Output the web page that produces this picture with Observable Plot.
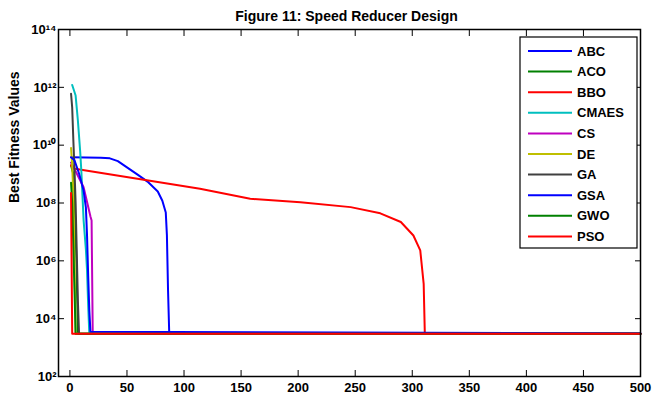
<!DOCTYPE html>
<html><head><meta charset="utf-8">
<script src="https://cdn.jsdelivr.net/npm/d3@7"></script>
<script src="https://cdn.jsdelivr.net/npm/@observablehq/plot@0.6"></script>
<style>
body{margin:0;background:#fff;}
#wrap{position:relative;width:652px;height:400px;overflow:hidden;font-family:"Liberation Sans",Arial,sans-serif;}
</style></head><body><div id="wrap"></div>
<script>
const title = "Figure 11: Speed Reducer Design";
const yLabel = "Best Fitness Values";
const algorithms = ["ABC","ACO","BBO","CMAES","CS","DE","GA","GSA","GWO","PSO"];
const colors = ["#0000ff","#008000","#ff0000","#00bfbf","#bf00bf","#bfbf00","#404040","#0000ff","#008000","#ff0000"];
const xTicks = [0,50,100,150,200,250,300,350,400,450,500];
const yTicks = [1e2,1e4,1e6,1e8,1e10,1e12,1e14];

// iteration / best fitness pairs
const abcIter = [1,27,35,42,50,59,68,77,81,84,85,86,87,110,500];
const abcBest = [3.8e9,3.7e9,3.5e9,2.8e9,1.7e9,9.8e8,5.5e8,2.5e8,1.2e8,4.7e7,7.6e6,9.3e4,3400,3100,3050];
const acoIter = [1,3,4,5,6,7,500];
const acoBest = [2e9,1e9,2e8,1e7,3e5,2994.5,2994.5];
const bboIter = [1,3,114,158,202,246,272,290,301,307,310,311,500];
const bboBest = [2.0e9,1.55e9,3.1e8,1.4e8,1.07e8,7.2e7,4.4e7,2.2e7,7.5e6,2.3e6,1.6e5,2994.5,2994.5];
const cmaesIter = [2,5,7,9,10,12,14,15,16,17,500];
const cmaesBest = [1.2e12,5.2e11,7e10,6e9,1.3e9,2.5e7,2.5e6,4.7e5,3e4,2994.5,2994.5];
const csIter = [1,6,12,18,19,20,500];
const csBest = [2.5e9,1.05e9,3.5e8,3.4e7,2.5e7,3000,2994.5];
const deIter = [1,2,3,4,5,500];
const deBest = [8e9,2e9,2e8,1e6,2994.5,2994.5];
const gaIter = [1,2,3,4,5,6,7,8,500];
const gaBest = [6e11,2e11,1.5e10,1.5e9,1e8,2e6,4e4,2994.5,2994.5];
const gsaIter = [1,4,8,12,14,15,16,17,18,500];
const gsaBest = [3.8e9,3e9,1.05e9,2.7e8,6.9e7,7.6e6,3.1e5,1.9e4,3500,3100];
const gwoIter = [1,2,3,4,5,500];
const gwoBest = [5e8,1e8,3e6,1e5,2994.5,2994.5];
const psoIter = [1,2,500];
const psoBest = [2.2e8,2994.4,2994.4];

const series = [[abcIter,abcBest],[acoIter,acoBest],[bboIter,bboBest],[cmaesIter,cmaesBest],[csIter,csBest],
  [deIter,deBest],[gaIter,gaBest],[gsaIter,gsaBest],[gwoIter,gwoBest],[psoIter,psoBest]];
const rows = series.flatMap(([it,v],i)=>it.map((x,j)=>({alg:algorithms[i],iter:x,best:v[j]})));

const sup = {"0":"\u2070","1":"\u00b9","2":"\u00b2","3":"\u00b3","4":"\u2074","5":"\u2075","6":"\u2076","7":"\u2077","8":"\u2078","9":"\u2079"};
const fmt = d => "10" + String(Math.round(Math.log10(d))).split("").map(c=>sup[c]).join("");

const chart = Plot.plot({
  width:652,height:400,marginLeft:58,marginRight:12,marginTop:29,marginBottom:24,
  style:{fontFamily:"Liberation Sans, Arial, sans-serif",fontSize:"13px",fontWeight:"bold",background:"#fff",color:"#000"},
  x:{domain:[-10,500]},
  y:{type:"log",domain:[1e2,1e14]},
  color:{domain:algorithms,range:colors},
  marks:[
    Plot.line(rows,{x:"iter",y:"best",z:"alg",stroke:"alg",strokeWidth:2}),
    Plot.frame({stroke:"#000",strokeWidth:1.5}),
    Plot.axisX({ticks:xTicks,anchor:"bottom",tickSize:-6,tickPadding:12,label:null}),
    Plot.axisX({ticks:xTicks,anchor:"top",tickSize:-6,tickFormat:()=>"",label:null}),
    Plot.axisY({ticks:yTicks,anchor:"left",tickSize:-6,tickPadding:8,tickFormat:fmt,label:null}),
    Plot.axisY({ticks:yTicks,anchor:"right",tickSize:-6,tickFormat:()=>"",label:null}),
    Plot.text([title],{text:d=>d,frameAnchor:"top",dy:-18,dx:-3,fontSize:14,fontWeight:"bold"}),
    Plot.text([yLabel],{text:d=>d,frameAnchor:"left",rotate:-90,dx:-44,fontSize:14,fontWeight:"bold"})
  ]
});
document.getElementById("wrap").appendChild(chart);

const leg = d3.select("#wrap").append("svg")
  .attr("width",120).attr("height",214)
  .style("position","absolute").style("left","519px").style("top","36px")
  .style("font-family","Liberation Sans, Arial, sans-serif").style("font-size","13px").style("font-weight","bold");
leg.append("rect").attr("x",1).attr("y",1).attr("width",117).attr("height",211)
  .attr("fill","#fff").attr("stroke","#000").attr("stroke-width",1.2);
algorithms.forEach((a,i)=>{
  const y = 15 + i*20.6;
  leg.append("line").attr("x1",9).attr("x2",53).attr("y1",y).attr("y2",y).attr("stroke",colors[i]).attr("stroke-width",2);
  leg.append("text").attr("x",58).attr("y",y).attr("dy","0.35em").text(a);
});
</script></body></html>
